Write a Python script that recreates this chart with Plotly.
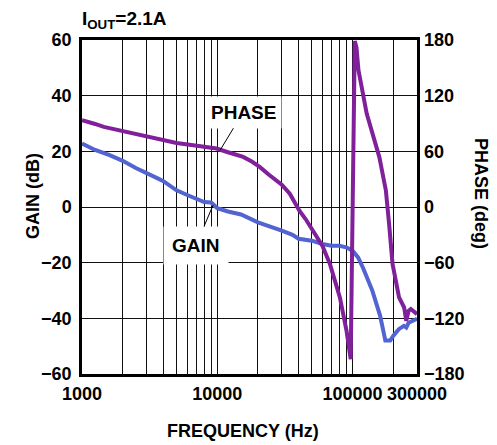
import math
import plotly.graph_objects as go

# Frequency (Hz) and gain (dB)
gain_freq = [1000, 1250, 1600, 2000, 2500, 3000, 3660, 4000, 5000, 6000, 7000,
             8000, 9000, 10000, 12000, 15000, 20000, 25000, 30000, 36000, 40000,
             50000, 60000, 70000, 80000, 90000, 100000, 110000, 120000, 140000,
             160000, 175000, 190000, 200000, 220000, 240000, 250000, 260000, 300000]
gain_db = [22.8, 20.5, 18.6, 16.6, 14.0, 12.0, 10.2, 9.3, 6.0, 4.3, 3.0,
           1.8, 1.6, -0.4, -1.6, -2.7, -5.5, -7.0, -8.5, -10.0, -11.4,
           -12.1, -13.3, -13.9, -13.9, -14.5, -15.7, -18.1, -22.0, -30.0,
           -39.0, -48.0, -48.0, -46.3, -43.9, -42.7, -43.3, -41.6, -40.2]

# Frequency (Hz) and phase (deg)
phase_freq = [1000, 1100, 1250, 1450, 1700, 2000, 2500, 2840, 3300, 3770, 5000,
              6650, 8000, 9880, 12000, 15560, 18000, 20700, 24000, 27500, 30000,
              34400, 36500, 40400, 45000, 51300, 60000, 68100, 80700, 90400,
              95500, 97000, 104000, 107000, 110700, 127400, 158000, 176600,
              187000, 197800, 221000, 241000, 250000, 260000, 270000, 300000]
phase_deg = [93.5, 92.0, 89.5, 86.3, 84.0, 82.0, 78.0, 76.2, 74.0, 72.0, 69.0,
             66.5, 64.5, 63.0, 59.0, 54.0, 49.0, 43.0, 35.0, 28.6, 24.0,
             14.3, 7.0, -3.8, -13.0, -25.4, -42.0, -61.4, -97.5, -133.5,
             -162.0, -164.0, 179.0, 172.0, 147.6, 100.7, 53.8, 17.8,
             -20.0, -61.4, -97.5, -108.3, -122.7, -112.0, -110.0, -115.5]

x_tickvals = [1000, 2000, 3000, 4000, 5000, 6000, 7000, 8000, 9000,
              10000, 20000, 30000, 40000, 50000, 60000, 70000, 80000, 90000,
              100000, 200000, 300000]
x_ticklabels = {1000: "1000", 10000: "10000", 100000: "100000", 300000: "300000"}
gain_ticks = [-60, -40, -20, 0, 20, 40, 60]
phase_ticks = [-180, -120, -60, 0, 60, 120, 180]

FONT = "Liberation Sans"
BLACK = "#000000"

fig = go.Figure()
fig.add_trace(go.Scatter(x=gain_freq, y=gain_db, mode="lines",
                         line=dict(color="#5263d2", width=4), yaxis="y"))
fig.add_trace(go.Scatter(x=phase_freq, y=phase_deg, mode="lines",
                         line=dict(color="#80209a", width=4), yaxis="y2"))

# page body has an 8px margin; figure is sized so it fills the 497x445 window
OFF = 8
W, H = 497 - OFF, 445 - OFF
L, T = 82 - OFF, 40 - OFF
R = W - (417 - OFF)
B = H - (374 - OFF)
pw, ph = W - L - R, H - T - B

def px(xp):  # page pixel x -> paper
    return (xp - OFF - L) / pw

def py(yp):  # page pixel y -> paper
    return (H - B - (yp - OFF)) / ph

tick_font = dict(family=FONT, size=18, color=BLACK, weight="bold")

fig.update_layout(
    width=W, height=H,
    margin=dict(l=L, r=R, t=T, b=B, pad=0, autoexpand=False),
    paper_bgcolor="white", plot_bgcolor="white",
    showlegend=False,
    xaxis=dict(type="log", range=[3, math.log10(300000)],
               tickvals=x_tickvals,
               ticktext=[x_ticklabels.get(v, "") for v in x_tickvals],
               tickfont=tick_font, ticks="", tickangle=0, automargin=False,
               showgrid=True, gridcolor="#111111", gridwidth=1.3,
               showline=True, linecolor=BLACK, linewidth=2.5, mirror=True,
               zeroline=False, ticklabelstandoff=2),
    yaxis=dict(range=[-60, 60], tickvals=gain_ticks, tickfont=tick_font,
               ticks="", showgrid=True, gridcolor="#111111", gridwidth=1.3,
               showline=True, linecolor=BLACK, linewidth=2.5, mirror=True,
               zeroline=False, ticklabelstandoff=4, automargin=False),
    yaxis2=dict(range=[-180, 180], tickvals=phase_ticks, tickfont=tick_font,
                overlaying="y", side="right", showgrid=False, ticks="",
                zeroline=False, showline=False, ticklabelstandoff=6,
                automargin=False),
)

title_font = dict(family=FONT, size=18, color=BLACK, weight="bold")
label_font = dict(family=FONT, size=19, color=BLACK, weight="bold")

annotations = [
    dict(text="GAIN (dB)", xref="paper", yref="paper", x=px(33), y=py(196),
         textangle=-90, showarrow=False, font=title_font,
         xanchor="center", yanchor="middle"),
    dict(text="PHASE (deg)", xref="paper", yref="paper", x=px(481), y=py(193),
         textangle=90, showarrow=False, font=title_font,
         xanchor="center", yanchor="middle"),
    dict(text="FREQUENCY (Hz)", xref="paper", yref="paper", x=px(243), y=py(431),
         showarrow=False, font=title_font, xanchor="center", yanchor="middle"),
    dict(text="I<sub>OUT</sub>=2.1A", xref="paper", yref="paper", x=px(80), y=py(20),
         showarrow=False, font=dict(family=FONT, size=19, color=BLACK, weight="bold"),
         xanchor="left", yanchor="middle"),
    dict(text="PHASE", xref="x", yref="y", x=math.log10(10500), y=20.4,
         ax=23, ay=-38, showarrow=True, arrowhead=0, arrowwidth=1,
         arrowcolor=BLACK, standoff=0, font=label_font, bgcolor="white",
         borderpad=5),
    dict(text="GAIN", xref="x", yref="y", x=math.log10(9300), y=0.6,
         ax=-17, ay=40, showarrow=True, arrowhead=0, arrowwidth=1,
         arrowcolor=BLACK, standoff=0, font=label_font, bgcolor="white",
         borderpad=8),
]
fig.update_layout(annotations=annotations)

fig.write_html("out.html")
